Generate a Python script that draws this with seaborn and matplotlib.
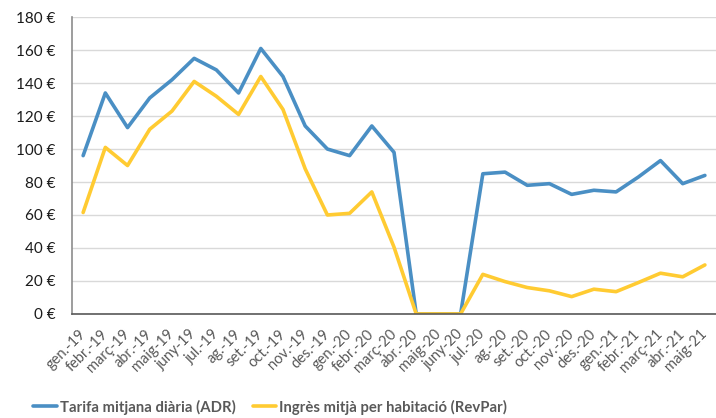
import matplotlib
matplotlib.use("Agg")
import matplotlib.pyplot as plt
import seaborn as sns
import pandas as pd
import numpy as np
from matplotlib.ticker import FuncFormatter, FixedLocator
from matplotlib.lines import Line2D
import matplotlib.transforms as mtransforms

months = ["gen.-19", "febr.-19", "març-19", "abr.-19", "maig-19", "juny-19", "jul.-19",
          "ag.-19", "set.-19", "oct.-19", "nov.-19", "des.-19", "gen.-20", "febr.-20",
          "març-20", "abr.-20", "maig-20", "juny-20", "jul.-20", "ag.-20", "set.-20",
          "oct.-20", "nov.-20", "des.-20", "gen.-21", "febr.-21", "març-21", "abr.-21",
          "maig-21"]
adr = [96, 134, 113, 131, 142, 155, 148, 134, 161, 144, 114, 100, 96, 114,
       98, 0, 0, 0, 85, 86, 78, 79, 72.5, 75, 74, 83, 93, 79, 84]
revpar = [61.5, 101, 90, 112, 123, 141, 132, 121, 144, 124, 88, 60, 61, 74,
          40.5, 0, 0, 0, 24, 19.6, 16, 14, 10.5, 15, 13.5, 19, 24.7, 22.5, 29.7]
series_names = ["Tarifa mitjana diària (ADR)", "Ingrès mitjà per habitació (RevPar)"]
colors = ["#4A8FC4", "#FFCB32"]

df = pd.DataFrame({
    "pos": list(range(len(months))) * 2,
    "value": adr + revpar,
    "series": [series_names[0]] * len(months) + [series_names[1]] * len(months),
})

sns.set_style("white")
plt.rcParams["font.family"] = ["Lato", "DejaVu Sans"]

fig = plt.figure(figsize=(7.16, 4.18), dpi=100)
ax = fig.add_axes([0.1006, 0.249, 0.8994, 0.71])

sns.lineplot(data=df, x="pos", y="value", hue="series", palette=colors,
             linewidth=2.6, ax=ax, legend=False)

ax.set_xlim(-0.5, len(months) - 0.5)
ax.set_ylim(0, 180)
ax.set_yticks(np.arange(0, 181, 20))
ax.yaxis.set_major_formatter(FuncFormatter(lambda v, p: f"{int(v)} €"))
ax.grid(axis="y", color="#D9D9D9", linewidth=1.0)
ax.set_axisbelow(True)

ax.set_xticks(range(len(months)))
ax.set_xticklabels(months, rotation=45, ha="right", va="center", rotation_mode="anchor",
                   fontsize=10.5, color="#595959")
offset = mtransforms.ScaledTranslation(3 / 72, 0, fig.dpi_scale_trans)
for lbl in ax.get_xticklabels():
    lbl.set_transform(lbl.get_transform() + offset)
ax.xaxis.set_minor_locator(FixedLocator(np.arange(-0.5, len(months), 1.0)))
ax.tick_params(axis="x", which="major", length=0, pad=13)
ax.tick_params(axis="x", which="minor", length=5, width=1, color="#595959", direction="out")
ax.tick_params(axis="y", length=0, labelsize=11, labelcolor="#1a1a1a", pad=12)

ax.set_xlabel("")
ax.set_ylabel("")
for s in ["top", "right"]:
    ax.spines[s].set_visible(False)
ax.spines["left"].set_color("#8C8C8C")
ax.spines["left"].set_linewidth(1.2)
ax.spines["bottom"].set_color("#595959")
ax.spines["bottom"].set_linewidth(1.2)

handles = [Line2D([0], [0], color=c, linewidth=2.6) for c in colors]
fig.legend(handles, series_names, loc="center left", bbox_to_anchor=(0.046, 0.026),
           ncol=2, frameon=False, handlelength=1.6, handletextpad=0.2,
           columnspacing=1.15, borderpad=0, borderaxespad=0,
           prop={"weight": "bold", "size": 10.7}, labelcolor="#595959")

fig.savefig("out.png", dpi=100)
